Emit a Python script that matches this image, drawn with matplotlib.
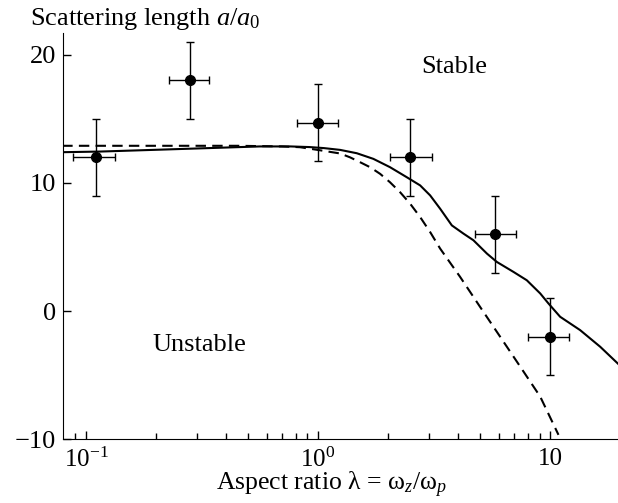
import numpy as np
import matplotlib
matplotlib.use("Agg")
import matplotlib.pyplot as plt
from matplotlib.ticker import FixedLocator, FixedFormatter, NullFormatter

# -------------------- FONTS --------------------
plt.rcParams['font.family'] = ['Liberation Serif', 'DejaVu Serif']
plt.rcParams['mathtext.fontset'] = 'custom'
plt.rcParams['mathtext.rm'] = 'Liberation Serif'
plt.rcParams['mathtext.it'] = 'Liberation Serif:italic'

# -------------------- DATA --------------------
# measured points (aspect ratio, scattering length) with error bars
pt_x = [0.11, 0.28, 1.0, 2.5, 5.8, 10.0]
pt_y = [12.0, 18.0, 14.7, 12.0, 6.0, -2.0]
pt_x_lo = [0.088, 0.228, 0.81, 2.05, 4.75, 8.0]
pt_x_hi = [0.133, 0.34, 1.22, 3.1, 7.1, 12.0]
pt_y_err = [3.0, 3.0, 3.0, 3.0, 3.0, 3.0]

# solid curve
solid_x = [0.079, 0.115, 0.21, 0.38, 0.56, 0.76, 0.92, 1.06, 1.245, 1.468,
           1.731, 2.042, 2.41, 2.753, 3.04, 3.357, 3.77, 4.23, 4.67, 5.34,
           5.89, 6.95, 7.93, 9.06, 9.83, 11.04, 13.46, 16.43, 19.6]
solid_y = [12.4, 12.45, 12.6, 12.75, 12.85, 12.85, 12.8, 12.72, 12.58, 12.32,
           11.88, 11.23, 10.45, 9.81, 9.03, 7.99, 6.69, 6.05, 5.53, 4.49,
           3.84, 3.06, 2.41, 1.38, 0.6, -0.44, -1.48, -2.78, -4.1]

# dashed curve
dash_x = [0.079, 0.2, 0.45, 0.7, 0.836, 1.02, 1.245, 1.373, 1.517, 1.675,
          1.851, 2.04, 2.256, 2.493, 2.753, 3.04, 3.357, 4.093, 4.99, 6.09,
          7.43, 9.06, 10.86]
dash_y = [12.9, 12.9, 12.9, 12.85, 12.79, 12.55, 12.3, 12.0, 11.62, 11.23,
          10.71, 10.06, 9.28, 8.38, 7.34, 6.17, 4.88, 2.67, 0.33, -2.0,
          -4.33, -6.67, -9.65]

major_ticks = [0.1, 1, 10]
major_labels = [r'$10^{-1}$', r'$10^{0}$', '10']
minor_ticks = [0.09, 0.2, 0.3, 0.4, 0.5, 0.6, 0.7, 0.8, 0.9,
               2, 3, 4, 5, 6, 7, 8, 9]
y_ticks = [-10, 0, 10, 20]
y_labels = ['\u221210', '0', '10', '20']

# -------------------- PLOT --------------------
fig = plt.figure(figsize=(6.18, 5.03), dpi=100)
ax = fig.add_axes([0.1015, 0.1266, 0.8985, 0.8078])

ax.plot(solid_x, solid_y, color='black', linewidth=1.5)
ax.plot(dash_x, dash_y, color='black', linewidth=1.5, linestyle=(0, (5, 3)))

xerr = [np.array(pt_x) - np.array(pt_x_lo), np.array(pt_x_hi) - np.array(pt_x)]
ax.errorbar(pt_x, pt_y, xerr=xerr, yerr=pt_y_err, fmt='o', color='black',
            markersize=7, elinewidth=1, capsize=3, capthick=1)

ax.set_xscale('log')
ax.set_xlim(0.0794, 19.6)
ax.set_ylim(-10, 21.7)

ax.xaxis.set_major_locator(FixedLocator(major_ticks))
ax.xaxis.set_major_formatter(FixedFormatter(major_labels))
ax.xaxis.set_minor_locator(FixedLocator(minor_ticks))
ax.xaxis.set_minor_formatter(NullFormatter())
ax.set_yticks(y_ticks)
ax.set_yticklabels(y_labels)

ax.spines['top'].set_visible(False)
ax.spines['right'].set_visible(False)
ax.tick_params(which='both', direction='in', width=1)
ax.tick_params(which='major', length=6)
ax.tick_params(which='minor', length=4)
ax.tick_params(axis='x', labelsize=18, pad=6)
ax.tick_params(axis='y', labelsize=19, pad=5)

fig.text(0.537, 0.035, 'Aspect ratio \u03bb = \u03c9$_z$/\u03c9$_p$', fontsize=18.5,
         ha='center', va='center')
fig.text(0.048, 0.963, 'Scattering length $a/a_0$', fontsize=19, va='center')

ax.text(0.706, 0.916, 'Stable', transform=ax.transAxes, fontsize=19,
        ha='center', va='center')
ax.text(0.247, 0.232, 'Unstable', transform=ax.transAxes, fontsize=19,
        ha='center', va='center')

fig.savefig('out.png', dpi=100)
